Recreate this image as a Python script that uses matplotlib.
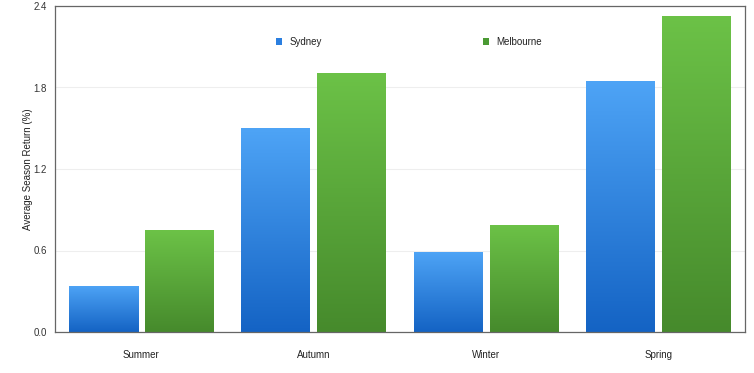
import numpy as np
import matplotlib.pyplot as plt
from matplotlib.colors import LinearSegmentedColormap
from matplotlib.patches import Patch

plt.rcParams['font.family'] = ['Liberation Sans', 'DejaVu Sans']

seasons = ['Summer', 'Autumn', 'Winter', 'Spring']
sydney = [0.34, 1.50, 0.59, 1.85]
melbourne = [0.75, 1.91, 0.79, 2.33]
y_ticks = [0.0, 0.6, 1.2, 1.8, 2.4]

blue_map = LinearSegmentedColormap.from_list('blue', ['#1463c4', '#4ea4f6'])
green_map = LinearSegmentedColormap.from_list('green', ['#468a2c', '#6cc247'])

fig = plt.figure(figsize=(7.54, 3.73), dpi=100)
ax = fig.add_axes([55 / 754, 41 / 373, 690 / 754, 326 / 373])

x = np.arange(len(seasons))
width = 0.4
offset = 0.22


def gradient_bars(xs, vals, cmap):
    bars = ax.bar(xs, vals, width=width, color='none', edgecolor='none', zorder=2)
    grad = np.linspace(0, 1, 256).reshape(-1, 1)
    for b in bars:
        x0, y0 = b.get_x(), b.get_y()
        im = ax.imshow(grad, cmap=cmap, origin='lower', aspect='auto',
                       extent=[x0, x0 + b.get_width(), y0, y0 + b.get_height()],
                       zorder=2)
        im.set_clip_path(b)
    return bars


gradient_bars(x - offset, sydney, blue_map)
gradient_bars(x + offset, melbourne, green_map)

ax.set_xlim(-0.5, len(seasons) - 0.5)
ax.set_ylim(0, 2.4)
ax.set_yticks(y_ticks)
ax.set_yticklabels([f'{v:.1f}' for v in y_ticks], fontsize=7, color='#333333')
ax.set_xticks(x)
ax.set_xticklabels(seasons, fontsize=7, color='#222222')
ax.tick_params(axis='both', length=0)
ax.tick_params(axis='x', pad=13)
ax.tick_params(axis='y', pad=6)
ax.yaxis.grid(True, color='#eeeeee', linewidth=0.8, zorder=0)
ax.set_axisbelow(True)
ax.set_ylabel('Average Season Return (%)', fontsize=7, color='#222222', labelpad=0)

for side in ['left', 'bottom', 'top', 'right']:
    ax.spines[side].set_color('#666666')
    ax.spines[side].set_linewidth(0.9)

handles = [Patch(facecolor='#2b7fe0', edgecolor='none', label='Sydney'),
           Patch(facecolor='#4a9a33', edgecolor='none', label='Melbourne')]
fig.legend(handles=handles, loc='center left', bbox_to_anchor=(267 / 754, 1 - 42 / 373),
           ncol=2, frameon=False, fontsize=7, handlelength=0.6, handleheight=0.6,
           handletextpad=0.8, columnspacing=16.6, labelcolor='#222222')

fig.savefig('out.png', dpi=100)
